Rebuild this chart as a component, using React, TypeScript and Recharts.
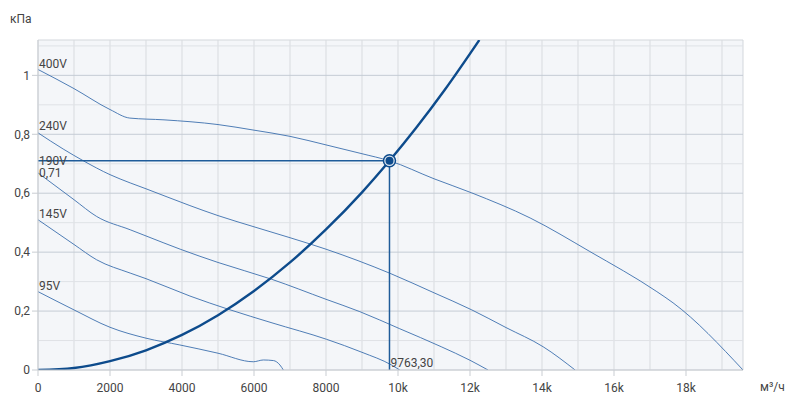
import React from "react";
import {
  LineChart,
  Line,
  XAxis,
  YAxis,
  ReferenceLine,
  ReferenceDot,
  ReferenceArea,
} from "recharts";

// fan curves, flow in m3/h, pressure in kPa
const q400 = [0, 1000, 2000, 2550, 3500, 5000, 6000, 7000, 8000, 9000, 9763.3, 11000, 12050, 13670, 15330, 17190, 17640, 19583];
const p400 = [1.02, 0.955, 0.884, 0.855, 0.849, 0.833, 0.814, 0.793, 0.764, 0.734, 0.71, 0.649, 0.601, 0.516, 0.402, 0.266, 0.228, 0];

const q240 = [0, 700, 1260, 2000, 2560, 3000, 4220, 5000, 6000, 7000, 8000, 9780, 11000, 12050, 13000, 14030, 14920];
const p240 = [0.805, 0.75, 0.71, 0.663, 0.635, 0.615, 0.558, 0.524, 0.486, 0.449, 0.41, 0.328, 0.262, 0.204, 0.144, 0.079, 0];

const q190 = [0, 1000, 1630, 2560, 3000, 3950, 5000, 6490, 8000, 8940, 10050, 11200, 12000, 12500];
const p190 = [0.669, 0.578, 0.521, 0.476, 0.455, 0.41, 0.365, 0.308, 0.24, 0.198, 0.14, 0.079, 0.033, 0];

const q145 = [0, 1000, 1630, 2560, 3000, 4220, 5290, 6500, 8020, 9000, 9820, 10050];
const p145 = [0.51, 0.426, 0.374, 0.329, 0.31, 0.251, 0.206, 0.16, 0.104, 0.06, 0.017, 0];

const q95 = [0, 1000, 2000, 3000, 3940, 5000, 5980, 6260, 6540, 6720, 6815];
const p95 = [0.266, 0.204, 0.145, 0.108, 0.085, 0.057, 0.028, 0.034, 0.032, 0.017, 0];

// system curve
const qSys = [0, 1000, 2000, 3000, 4000, 5000, 6000, 7000, 8000, 9000, 9763.3, 10500, 11300, 12260];
const pSys = [0, 0.007, 0.03, 0.067, 0.119, 0.186, 0.268, 0.365, 0.477, 0.603, 0.71, 0.821, 0.951, 1.12];

const workQ = 9763.3;
const workP = 0.71;

const xTicks = [0, 2000, 4000, 6000, 8000, 10000, 12000, 14000, 16000, 18000];
const yTicks = [0, 0.2, 0.4, 0.6, 0.8, 1];
const xGrid = [1000, 2000, 3000, 4000, 5000, 6000, 7000, 8000, 9000, 10000, 11000, 12000, 13000, 14000, 15000, 16000, 17000, 18000, 19000];
const yGridMinor = [0.1, 0.3, 0.5, 0.7, 0.9, 1.1];
const yGridMajor = [0.2, 0.4, 0.6, 0.8, 1];

const curveLabels = [
  { text: "400V", y: 1.041 },
  { text: "240V", y: 0.83 },
  { text: "190V", y: 0.709 },
  { text: "0,71", y: 0.668 },
  { text: "145V", y: 0.532 },
  { text: "95V", y: 0.286 },
];

const X_MAX = 19583;
const Y_MAX = 1.12;
const FONT = "Roboto, 'Noto Sans', sans-serif";
const THIN = "#3c6fae";
const DARK = "#0d4b8c";

const toRows = (q: number[], p: number[]) => q.map((v, i) => ({ q: v, p: p[i] }));

const fmtX = (v: number) => (v >= 10000 ? `${v / 1000}k` : String(v));
const fmtY = (v: number) => String(v).replace(".", ",");

const App = () => {
  const curves = [
    toRows(q400, p400),
    toRows(q240, p240),
    toRows(q190, p190),
    toRows(q145, p145),
    toRows(q95, p95),
  ];

  return (
    <div style={{ position: "absolute", left: 0, top: 0, width: 794, height: 402, fontFamily: FONT }}>
      <span style={{ position: "absolute", left: 10, top: 12, fontSize: 12, color: "#444" }}>кПа</span>
      <span style={{ position: "absolute", left: 760, top: 380, fontSize: 12, color: "#444" }}>
        м³/ч
      </span>
      <LineChart width={794} height={402} margin={{ top: 40, right: 51, bottom: 0, left: 0 }}>
        <XAxis
          type="number"
          dataKey="q"
          domain={[0, X_MAX]}
          ticks={xTicks}
          tickFormatter={fmtX}
          height={32}
          tickSize={6}
          tickMargin={7}
          stroke="#c9cdd2"
          tick={{ fill: "#444", fontSize: 12, fontFamily: FONT }}
          allowDataOverflow
        />
        <YAxis
          type="number"
          dataKey="p"
          domain={[0, Y_MAX]}
          ticks={yTicks}
          tickFormatter={fmtY}
          width={38}
          tickSize={6}
          tickMargin={2}
          stroke="#c9cdd2"
          tick={{ fill: "#444", fontSize: 12, fontFamily: FONT }}
          allowDataOverflow
        />
        <ReferenceArea x1={0} x2={X_MAX} y1={0} y2={Y_MAX} fill="#f4f6f9" fillOpacity={1} stroke="#d3d7dc" />
        {xGrid.map((v) => (
          <ReferenceLine key={"x" + v} x={v} stroke="#d8dbdf" strokeWidth={1} />
        ))}
        {yGridMinor.map((v) => (
          <ReferenceLine key={"ym" + v} y={v} stroke="#dfe2e6" strokeWidth={1} />
        ))}
        {yGridMajor.map((v) => (
          <ReferenceLine key={"yM" + v} y={v} stroke="#c5ccd5" strokeWidth={1} />
        ))}
        {curves.map((rows, i) => (
          <Line
            key={i}
            data={rows}
            dataKey="p"
            type="monotone"
            stroke={THIN}
            strokeWidth={0.9}
            dot={false}
            isAnimationActive={false}
          />
        ))}
        <ReferenceLine
          segment={[
            { x: 0, y: workP },
            { x: workQ, y: workP },
          ]}
          stroke="#1f5c9a"
          strokeWidth={1.5}
        />
        <ReferenceLine
          segment={[
            { x: workQ, y: workP },
            { x: workQ, y: 0 },
          ]}
          stroke="#1f5c9a"
          strokeWidth={1.5}
        />
        <Line
          data={toRows(qSys, pSys)}
          dataKey="p"
          type="monotone"
          stroke={DARK}
          strokeWidth={2.4}
          dot={false}
          isAnimationActive={false}
        />
        {curveLabels.map((l) => (
          <ReferenceDot
            key={l.text}
            x={0}
            y={l.y}
            r={0}
            shape={(props: any) => (
              <text
                x={props.cx + 1}
                y={props.cy}
                dy="0.36em"
                fill="#444"
                fontSize={12}
                fontFamily={FONT}
              >
                {l.text}
              </text>
            )}
          />
        ))}
        <ReferenceDot
          x={workQ}
          y={0}
          r={0}
          shape={(props: any) => (
            <text x={props.cx + 1} y={props.cy - 7} dy="0.36em" fill="#444" fontSize={12} fontFamily={FONT}>
              9763,30
            </text>
          )}
        />
        <ReferenceDot
          x={workQ}
          y={workP}
          r={6}
          shape={(props: any) => (
            <g>
              <circle cx={props.cx} cy={props.cy} r={6} fill="#dfe7f1" stroke={DARK} strokeWidth={1.5} />
              <circle cx={props.cx} cy={props.cy} r={4} fill={DARK} />
            </g>
          )}
        />
      </LineChart>
    </div>
  );
};

export default App;
